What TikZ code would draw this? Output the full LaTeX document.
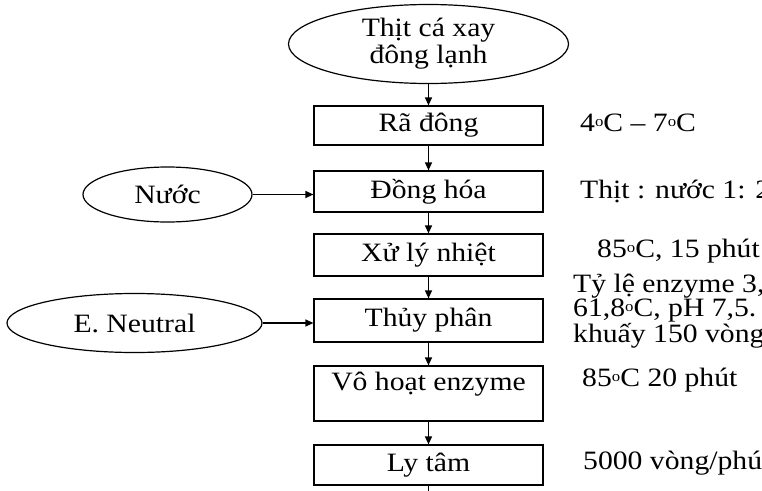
\documentclass[tikz,border=0pt]{standalone}
\usepackage{fontspec}
\setmainfont[FakeStretch=1.12]{Liberation Serif}
\usetikzlibrary{shapes.geometric,arrows.meta}
\newcommand{\dgc}{\raisebox{0.42ex}{\fontsize{15}{15}\selectfont o}C}
\tikzset{
  stepbox/.style={draw, line width=1.2pt, rectangle, inner sep=0pt, minimum width=229pt},
  oval/.style={draw, line width=1.2pt, ellipse, inner sep=0pt, align=center},
  flow/.style={line width=1.2pt, -{Triangle[length=8pt,width=7pt]}},
  note/.style={anchor=west, inner sep=0pt, align=left},
}
\begin{document}
\begin{tikzpicture}[x=1pt, y=-1pt, font=\fontsize{26.5}{27}\selectfont]
\clip (0,0) rectangle (762,490);
\fill[white] (0,0) rectangle (762,490);

% main column
\node[oval, minimum width=280pt, minimum height=79pt] (raw) at (428.5,44) {Thịt cá xay\\đông lạnh};
\node[stepbox, minimum height=39pt] (thaw) at (428.5,125.5) {Rã đông};
\node[stepbox, minimum height=41pt] (homo) at (428.5,191.5) {Đồng hóa};
\node[stepbox, minimum height=42pt] (heat) at (428.5,255) {Xử lý nhiệt};
\node[stepbox, minimum height=43pt] (hydro) at (428.5,320.5) {Thủy phân};
\node[stepbox, minimum height=55pt] (inact) at (428.5,393.5) {};
\node (inacttxt) at (428.5,384) {Vô hoạt enzyme};
\node[stepbox, minimum height=40pt] (centri) at (428.5,465) {Ly tâm};
\coordinate (tail) at (428.5,496);

% inputs on the left
\node[oval, minimum width=169pt, minimum height=55pt] (water) at (167.5,194.5) {Nước};
\node[oval, minimum width=255pt, minimum height=59pt] (enz) at (134.5,323) {E. Neutral};

% connectors
\draw[flow] (raw.south) -- (thaw.north);
\draw[flow] (thaw.south) -- (homo.north);
\draw[flow] (homo.south) -- (heat.north);
\draw[flow] (heat.south) -- (hydro.north);
\draw[flow] (hydro.south) -- (inact.north);
\draw[flow] (inact.south) -- (centri.north);
\draw[line width=1.2pt] (centri.south) -- (tail);
\draw[flow] (water.east) -- (water.east -| homo.west);
\draw[flow] (enz.east) -- (enz.east -| hydro.west);

% process conditions
\node[note] (c1) at (580,123) {4\dgc{} – 7\dgc};
\node[note] (c2) at (580,191) {Thịt : nước 1: 2};
\node[note] (c3) at (597,251) {85\dgc, 15 phút};
\node[note, font=\fontsize{26.5}{23}\selectfont] (c4) at (573,311) {Tỷ lệ enzyme 3,\\61,8\dgc, pH 7,5.\\khuấy 150 vòng};
\node[note] (c5) at (582,380) {85\dgc{} 20 phút};
\node[note] (c6) at (583,463) {5000 vòng/phút};
\end{tikzpicture}
\end{document}
